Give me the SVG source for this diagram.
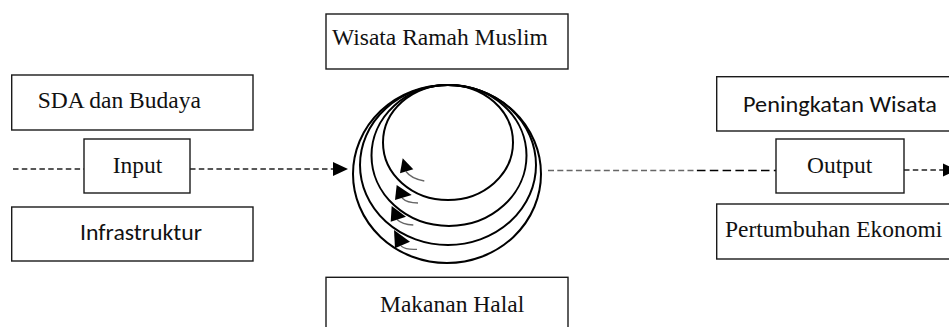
<svg xmlns="http://www.w3.org/2000/svg" width="949" height="327" viewBox="0 0 949 327">
<style>
.box{fill:#fff;stroke:#1a1a1a;stroke-width:1.4}
.serif{font-family:"Liberation Serif","Times New Roman",serif;font-size:23.5px;fill:#111}
.sans{font-family:Carlito,Lato,"Liberation Sans",sans-serif;font-size:22px;fill:#111}
.ring{fill:none;stroke:#000;stroke-width:2}
.head{fill:#000;stroke:none}
.tail{fill:none;stroke:#666;stroke-width:1.3}
.dash{fill:none;stroke:#222;stroke-width:1.3;stroke-dasharray:5.5 3.3}
.dashg{fill:none;stroke:#666;stroke-width:1.3;stroke-dasharray:6 3.3}
.dashb{fill:none;stroke:#000;stroke-width:1.5;stroke-dasharray:8.5 4.3}
</style>
<rect width="949" height="327" fill="#fff"/>
<g id="connectors">
  <line class="dash" x1="13" y1="169" x2="84" y2="169"/>
  <line class="dash" x1="190" y1="169" x2="334" y2="169"/>
  <polygon class="head" points="333,162 348,169 333,176"/>
  <line class="dashg" x1="548" y1="170.5" x2="697" y2="170.5"/>
  <line class="dashb" x1="697" y1="170.5" x2="776" y2="170.5"/>
  <line class="dash" x1="904" y1="170" x2="943" y2="170"/>
  <polygon class="head" points="943,163.5 957,170 943,176.5"/>
</g>
<g id="sda">
  <rect class="box" x="11.7" y="75" width="241.3" height="55"/>
  <text class="serif" x="37.7" y="108">SDA dan Budaya</text>
</g>
<g id="input">
  <rect class="box" x="84" y="139" width="106" height="54"/>
  <text class="serif" x="112.7" y="173">Input</text>
</g>
<g id="infrastruktur">
  <rect class="box" x="11.7" y="207" width="241.3" height="54"/>
  <text class="sans" x="80" y="240" textLength="122" lengthAdjust="spacingAndGlyphs">Infrastruktur</text>
</g>
<g id="wisata">
  <rect class="box" x="326" y="14" width="242" height="55"/>
  <text class="serif" x="332" y="45">Wisata Ramah Muslim</text>
</g>
<g id="makanan">
  <rect class="box" x="326" y="277.3" width="242" height="60"/>
  <text class="serif" x="380" y="311.7">Makanan Halal</text>
</g>
<g id="peningkatan">
  <rect class="box" x="716.7" y="76.7" width="240" height="54.3"/>
  <text class="sans" x="743" y="111.7" textLength="194" lengthAdjust="spacingAndGlyphs">Peningkatan Wisata</text>
</g>
<g id="output">
  <rect class="box" x="776" y="139" width="128" height="54"/>
  <text class="serif" x="807" y="172.7">Output</text>
</g>
<g id="pertumbuhan">
  <rect class="box" x="716.7" y="204" width="240" height="55"/>
  <text class="serif" x="725" y="237">Pertumbuhan Ekonomi</text>
</g>
<g id="cycle">
  <ellipse class="ring" cx="448" cy="142.5" rx="65" ry="57.5"/>
  <ellipse class="ring" cx="449" cy="155.5" rx="77.5" ry="70.5"/>
  <ellipse class="ring" cx="448" cy="165" rx="88" ry="80"/>
  <ellipse class="ring" cx="447" cy="174" rx="94" ry="89"/>
  <path class="tail" d="M406,171.5 Q411,178.5 424.3,181"/>
  <polygon class="head" points="402.7,158.3 413.3,169.3 400,173.3"/>
  <path class="tail" d="M402,198 Q407,203 418,203"/>
  <polygon class="head" points="396.7,185 411.7,195 395,200"/>
  <path class="tail" d="M397,219.5 Q402,224.5 413.3,225"/>
  <polygon class="head" points="391.7,206 406,216.7 390.7,221.7"/>
  <path class="tail" d="M401,246 Q406,250 417,249.3"/>
  <polygon class="head" points="394,230 410,241.7 395,248.3"/>
</g>
</svg>
